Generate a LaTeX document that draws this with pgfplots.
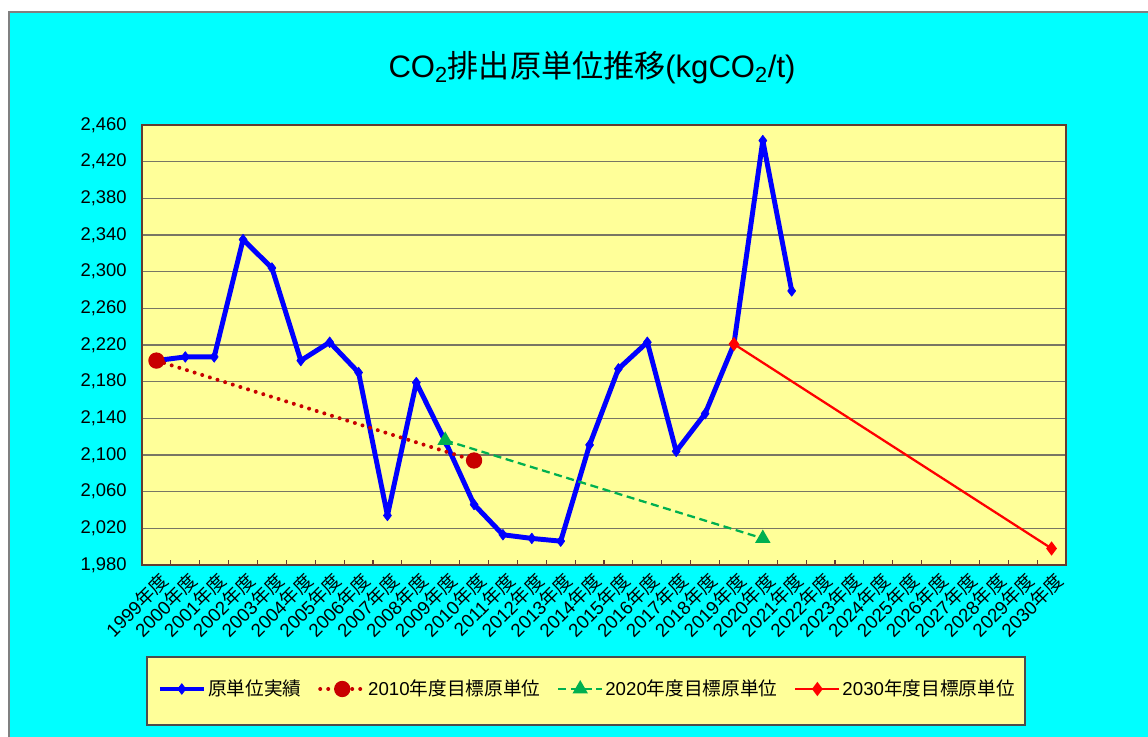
\documentclass[border=0pt]{standalone}
\usepackage{pgfplots}
\pgfplotsset{compat=1.18}
\usepackage{fontspec}
\setmainfont{Liberation Sans}
\newfontfamily\cjk{Noto Sans CJK JP}
\newcommand\nd{{\cjk 年度}}
\definecolor{bgcyan}{RGB}{0,255,255}
\definecolor{plotyellow}{RGB}{255,255,153}
\definecolor{gridgray}{RGB}{120,118,100}
\definecolor{axisbrown}{RGB}{100,60,50}
\definecolor{dred}{RGB}{200,0,0}
\definecolor{tgreen}{RGB}{0,176,80}
\begin{document}
\begin{tikzpicture}
\useasboundingbox (0,0) rectangle (861pt,552pt);
\fill[white] (0,0) rectangle (861pt,552pt);
\draw[fill=bgcyan, draw=gray, line width=0.8pt] (6.75pt,-1pt) rectangle (862pt,543pt);
\node[font=\fontsize{23.3}{28}\selectfont] at (444pt,501pt) {CO\textsubscript{2}{\cjk 排出原単位推移}(kgCO\textsubscript{2}/t)};
\draw[fill=plotyellow, draw=black!70, line width=0.8pt] (110.25pt,8.25pt) rectangle (768.75pt,59.25pt);
\begin{axis}[
  at={(106.5pt,128.25pt)}, anchor=south west,
  width=693pt, height=330pt, scale only axis,
  xmin=-0.5, xmax=31.5, ymin=1980, ymax=2460,
  ytick={1980,2020,...,2460},
  xtick={0,...,31},
  xticklabels={1999\nd,2000\nd,2001\nd,2002\nd,2003\nd,2004\nd,2005\nd,2006\nd,2007\nd,2008\nd,2009\nd,2010\nd,2011\nd,2012\nd,2013\nd,2014\nd,2015\nd,2016\nd,2017\nd,2018\nd,2019\nd,2020\nd,2021\nd,2022\nd,2023\nd,2024\nd,2025\nd,2026\nd,2027\nd,2028\nd,2029\nd,2030\nd},
  minor xtick={0.5,1.5,...,30.5},
  tick pos=left,
  major tick length=0pt, minor tick length=4pt,
  minor tick style={axisbrown, line width=0.8pt},
  ymajorgrids, grid style={gridgray, line width=1.1pt},
  axis line style={axisbrown, line width=1.2pt},
  axis background/.style={fill=plotyellow},
  yticklabel style={font=\fontsize{13.8}{16}\selectfont, xshift=-8pt},
  xticklabel style={font=\fontsize{14}{16}\selectfont, rotate=45, anchor=east, xshift=1.5pt, yshift=-11pt},
  /pgf/number format/1000 sep={,},
  /pgf/number format/assume math mode=true,
  legend columns=4,
  legend style={at={(0.4816,-0.2818)}, anchor=center, draw=none, fill=none,
    font=\fontsize{14}{17}\selectfont,
    nodes={inner sep=1.5pt},
    /tikz/every even column/.append style={column sep=11pt}},
  legend cell align=left,
  legend image code/.code={\draw[mark repeat=2,mark phase=2,#1] plot coordinates {(0pt,0pt) (16.5pt,0pt) (33pt,0pt)};},
]
\addplot[blue, line width=3.7pt, line join=round, mark=diamond*, mark size=4pt, mark options={solid, line width=0.5pt}] coordinates {
(0,2203) (1,2207) (2,2207) (3,2335) (4,2304) (5,2203) (6,2223) (7,2190)
(8,2034) (9,2179) (10,2115) (11,2046) (12,2013) (13,2009) (14,2006)
(15,2111) (16,2194) (17,2223) (18,2104) (19,2145) (20,2221) (21,2443) (22,2279)};
\addlegendentry{{\cjk 原単位実績}}
\addplot[dred, line width=3pt, line cap=round, dash pattern=on 0pt off 6pt, mark=*, mark size=4.6pt, mark options={solid}] coordinates {(0,2203) (11,2094)};
\addlegendentry{2010{\cjk 年度目標原単位}}
\addplot[tgreen, line width=1.7pt, dash pattern=on 6pt off 3.5pt, mark=triangle*, mark size=5pt, mark options={solid}] coordinates {(10,2116) (21,2009)};
\addlegendentry{2020{\cjk 年度目標原単位}}
\addplot[red, line width=1.7pt, mark=diamond*, mark size=4pt, mark options={solid}] coordinates {(20,2221) (31,1998)};
\addlegendentry{2030{\cjk 年度目標原単位}}
\end{axis}
\end{tikzpicture}
\end{document}
